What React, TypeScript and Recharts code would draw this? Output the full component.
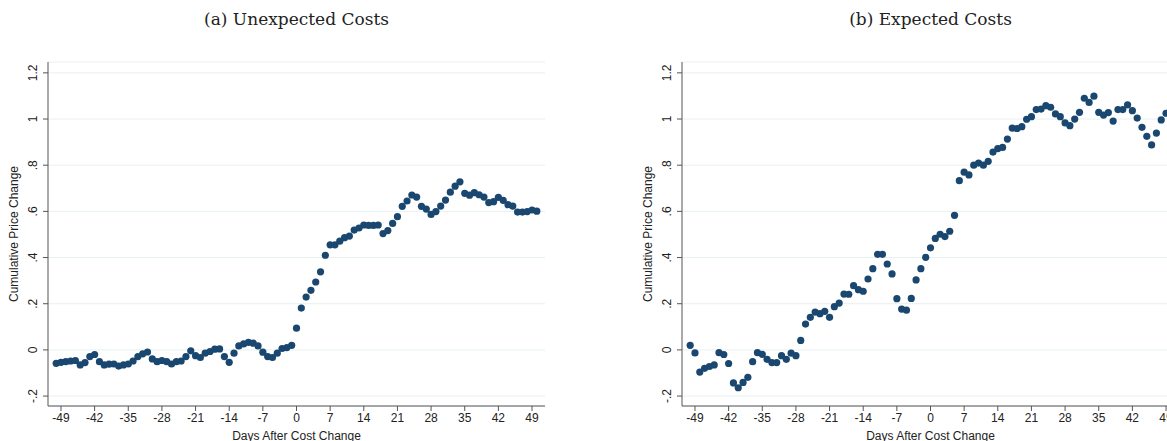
import React from 'react';
import { ScatterChart, Scatter, XAxis, YAxis, CartesianGrid } from 'recharts';

const days = Array.from({ length: 101 }, (_, i) => i - 50);
const unexpected = [-0.058,-0.054,-0.051,-0.048,-0.046,-0.065,-0.055,-0.029,-0.02,-0.051,-0.065,-0.062,-0.061,-0.07,-0.065,-0.061,-0.048,-0.029,-0.017,-0.009,-0.039,-0.051,-0.046,-0.051,-0.061,-0.051,-0.048,-0.029,-0.004,-0.025,-0.033,-0.014,-0.007,0.003,0.004,-0.029,-0.054,-0.014,0.017,0.026,0.033,0.029,0.017,-0.01,-0.029,-0.033,-0.014,0.006,0.01,0.02,
0.094,0.181,0.229,0.258,0.294,0.338,0.41,0.455,0.455,0.471,0.486,0.493,0.519,0.528,0.541,0.539,0.539,0.541,0.504,0.517,0.548,0.577,0.622,0.645,0.671,0.662,0.622,0.61,0.587,0.599,0.623,0.649,0.683,0.709,0.728,0.678,0.67,0.681,0.672,0.662,0.638,0.642,0.661,0.648,0.629,0.623,0.597,0.597,0.599,0.606,0.601];
const expected = [0.02,-0.013,-0.096,-0.08,-0.072,-0.065,-0.012,-0.02,-0.059,-0.143,-0.164,-0.141,-0.119,-0.051,-0.012,-0.019,-0.041,-0.055,-0.055,-0.025,-0.041,-0.014,-0.025,0.041,0.112,0.141,0.164,0.157,0.167,0.141,0.187,0.203,0.242,0.241,0.278,0.261,0.254,0.307,0.352,0.414,0.414,0.372,0.329,0.222,0.177,0.172,0.223,0.303,0.352,0.401,
0.442,0.483,0.501,0.491,0.514,0.583,0.733,0.77,0.758,0.8,0.809,0.8,0.817,0.857,0.872,0.877,0.913,0.961,0.959,0.967,0.999,1.01,1.041,1.043,1.058,1.051,1.022,1.01,0.983,0.971,1.0,1.029,1.09,1.072,1.099,1.029,1.017,1.028,0.991,1.041,1.041,1.061,1.036,1.004,0.964,0.925,0.888,0.939,0.996,1.025,1.03];
const xTicks = [-49,-42,-35,-28,-21,-14,-7,0,7,14,21,28,35,42,49];
const yTicks = [-0.2,0,0.2,0.4,0.6,0.8,1,1.2];
const yLabels = ['-.2','0','.2','.4','.6','.8','1','1.2'];
const titles = ['(a) Unexpected Costs', '(b) Expected Costs'];

const font = '"Liberation Sans", Arial, sans-serif';

const YTick = (props: any) => {
  const { x, y, payload } = props;
  const i = yTicks.findIndex(t => Math.abs(t - payload.value) < 1e-6);
  return (
    <text x={x - 4} y={y} transform={`rotate(-90 ${x - 4} ${y})`} textAnchor="middle" fontSize={12} fontFamily={font} fill="#222">
      {yLabels[i]}
    </text>
  );
};

const Dot = (props: any) => <circle cx={props.cx} cy={props.cy} r={3.6} fill="#1a476f" />;

function Panel({ values, left, title }: { values: number[]; left: number; title: string }) {
  const data = days.map((d, i) => ({ x: d, y: values[i] }));
  return (
    <div style={{ position: 'absolute', left, top: 0, width: 560, height: 441 }}>
      <div style={{ position: 'absolute', left: 48, width: 497, top: 9, textAlign: 'center', fontFamily: '"DejaVu Serif", "Liberation Serif", serif', fontSize: 17, color: '#222' }}>{title}</div>
      <ScatterChart width={560} height={441} margin={{ top: 62, right: 15, bottom: 0, left: 0 }}>
        <CartesianGrid vertical={false} stroke="#e8f0f2" />
        <XAxis type="number" dataKey="x" domain={[-51.7, 51.7]} ticks={xTicks} interval={0} allowDataOverflow
          height={35} stroke="#555" tickSize={5} tick={{ fontSize: 12, fontFamily: font, fill: '#222' }}
          label={{ value: 'Days After Cost Change', position: 'insideBottom', offset: 1, fontSize: 12, fontFamily: font, fill: '#222' }} />
        <YAxis type="number" dataKey="y" domain={[-0.243, 1.247]} ticks={yTicks} interval={0} allowDataOverflow
          width={48} stroke="#555" tickSize={5} tick={<YTick />}
          label={{ value: 'Cumulative Price Change', angle: -90, position: 'insideLeft', offset: 14, fontSize: 12, fontFamily: font, fill: '#222', style: { textAnchor: 'middle' } }} />
        <Scatter data={data} fill="#1a476f" shape={<Dot />} isAnimationActive={false} />
      </ScatterChart>
    </div>
  );
}

export default function App() {
  return (
    <div style={{ position: 'absolute', left: 0, top: 0, width: 1167, height: 441, overflow: 'hidden', background: '#fff' }}>
      <Panel values={unexpected} left={0} title={titles[0]} />
      <Panel values={expected} left={634} title={titles[1]} />
    </div>
  );
}
